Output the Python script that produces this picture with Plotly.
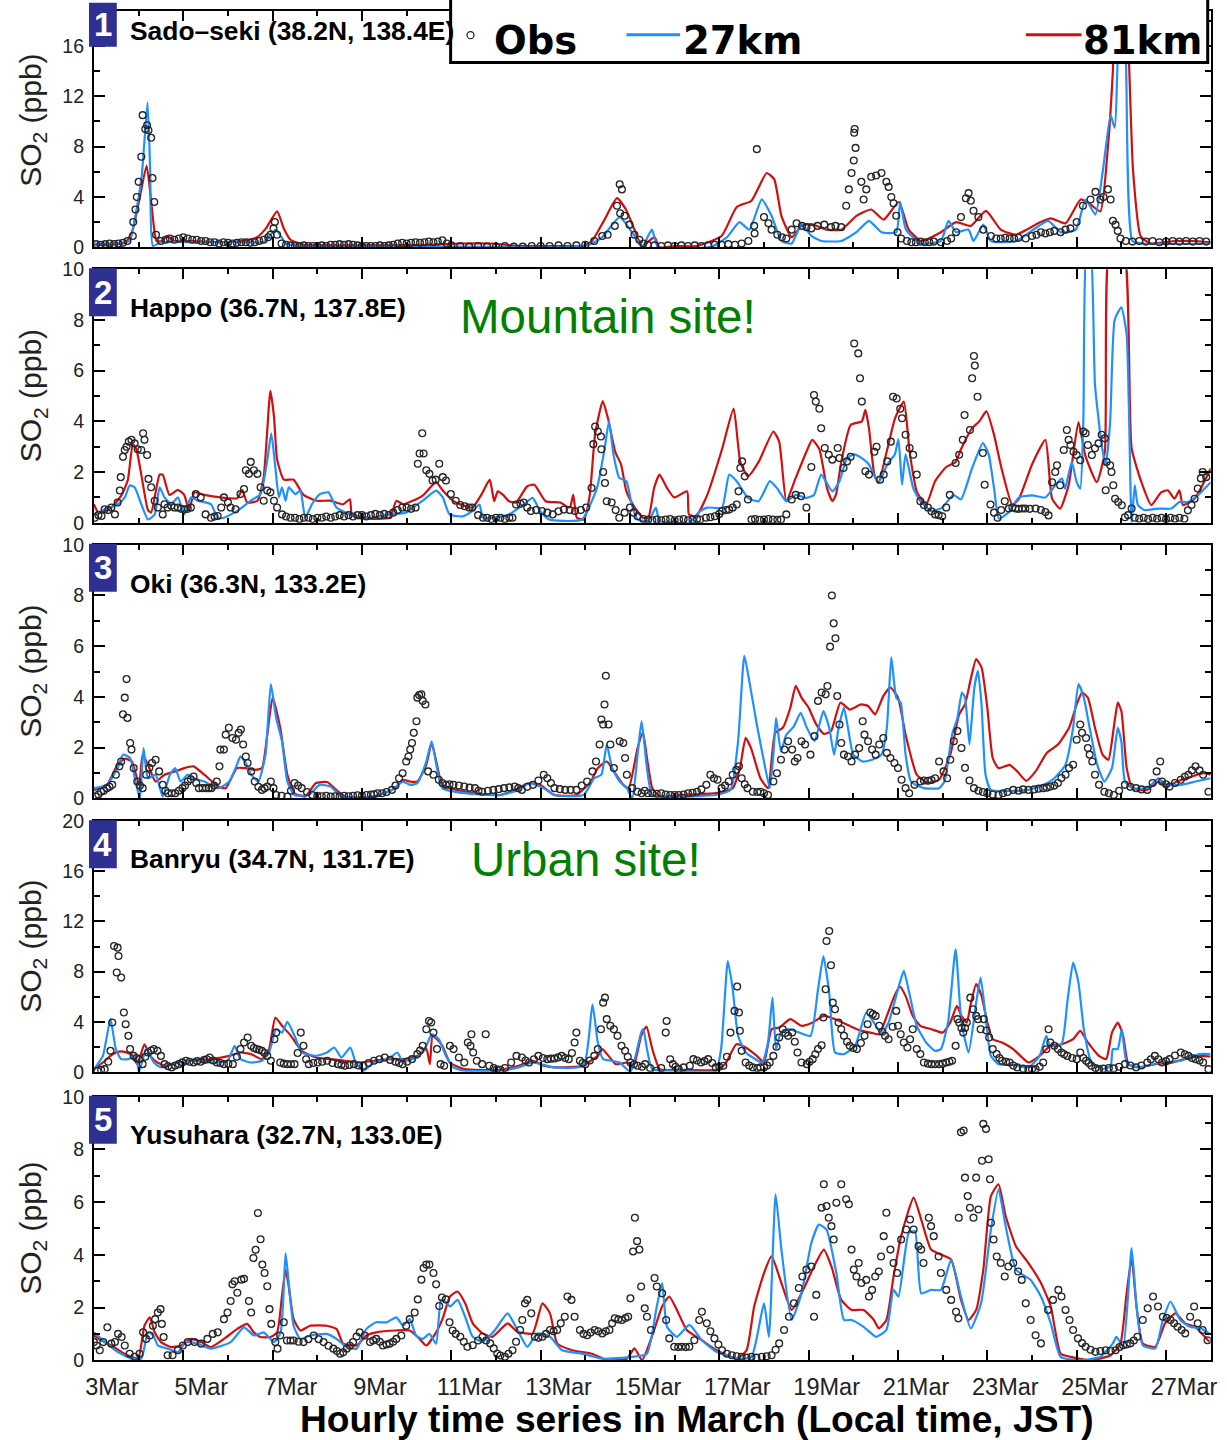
import plotly.graph_objects as go

# ---------------- data (x = days since 3 Mar 00:00 JST, y = SO2 ppb) ----------------
tick_days = [0, 2, 4, 6, 8, 10, 12, 14, 16, 18, 20, 22, 24]
tick_labels = ["3Mar", "5Mar", "7Mar", "9Mar", "11Mar", "13Mar", "15Mar", "17Mar",
               "19Mar", "21Mar", "23Mar", "25Mar", "27Mar"]
minor_days = [1, 3, 5, 7, 9, 11, 13, 15, 17, 19, 21, 23, 25]

site_names = ["Sado\u2013seki (38.2N, 138.4E)", "Happo (36.7N, 137.8E)", "Oki (36.3N, 133.2E)",
              "Banryu (34.7N, 131.7E)", "Yusuhara (32.7N, 133.0E)"]
panel_numbers = ["1", "2", "3", "4", "5"]
y_max = [18.78, 10, 10, 20, 10]
y_major = [[0, 4, 8, 12, 16], [0, 2, 4, 6, 8, 10], [0, 2, 4, 6, 8, 10], [0, 4, 8, 12, 16, 20], [0, 2, 4, 6, 8, 10]]
y_minor = [[2, 6, 10, 14, 18], [1, 3, 5, 7, 9], [1, 3, 5, 7, 9], [2, 6, 10, 14, 18], [1, 3, 5, 7, 9]]

sado_81km = [(0.0,0.2),(0.4,0.2),(0.7,0.35),(0.85,1.2),(1.0,3.5),(1.18,6.5),(1.3,3.0),(1.4,0.5),(1.52,0.5),(1.64,0.9),(1.8,0.5),(2.2,0.5),(2.8,0.4),(3.3,0.5),(3.65,0.8),(3.85,1.5),(4.1,2.85),(4.25,1.5),(4.4,0.6),(4.7,0.2),(5.5,0.15),(6.5,0.15),(7.5,0.2),(8.2,0.3),(8.9,0.3),(9.5,0.1),(10.5,0.1),(10.93,0.1),(11.15,0.5),(11.43,2.2),(11.71,3.9),(11.91,3.0),(12.1,1.4),(12.27,0.1),(12.55,0.8),(12.66,0.0),(13.0,0.1),(13.5,0.1),(14.05,0.9),(14.39,3.2),(14.72,3.7),(15.06,5.9),(15.23,5.4),(15.39,2.5),(15.62,0.8),(15.84,1.7),(16.06,1.85),(16.4,1.4),(16.73,1.4),(17.07,2.5),(17.4,3.0),(17.68,2.2),(18.02,3.6),(18.24,1.4),(18.52,0.5),(18.96,1.2),(19.3,2.0),(19.63,1.7),(19.97,2.9),(20.3,1.4),(20.64,1.0),(21.19,2.0),(21.42,2.3),(21.75,1.9),(22.09,3.8),(22.31,3.4),(22.53,2.85),(22.7,8.0),(22.81,14.0),(22.9,22.0),(23.05,22.0),(23.15,16.8),(23.26,6.2),(23.43,0.9),(23.65,0.3),(24.2,0.5),(24.6,0.5),(25.0,0.4)]
sado_27km = [(0.0,0.3),(0.5,0.3),(0.8,0.5),(0.91,2.2),(1.07,5.7),(1.2,11.5),(1.26,6.0),(1.32,0.1),(1.5,0.4),(2.5,0.4),(3.5,0.4),(3.8,0.4),(4.07,1.4),(4.3,0.3),(4.6,0.1),(6.0,0.05),(8.0,0.05),(9.5,0.0),(10.9,0.05),(11.15,0.3),(11.38,0.8),(11.77,2.4),(12.1,0.9),(12.27,0.0),(12.49,1.4),(12.63,0.0),(13.83,0.05),(14.17,0.8),(14.45,2.0),(14.67,1.4),(14.95,3.8),(15.17,2.5),(15.39,0.5),(15.62,0.3),(15.84,1.85),(16.06,0.9),(16.29,0.5),(16.73,0.5),(17.07,1.2),(17.35,2.1),(17.63,1.2),(17.96,1.2),(18.05,3.6),(18.18,1.4),(18.52,0.3),(18.96,0.5),(19.13,2.1),(19.3,1.2),(19.58,1.4),(19.69,0.5),(19.91,1.8),(20.08,0.5),(20.64,0.5),(21.36,2.1),(21.64,1.2),(21.98,1.4),(22.2,3.8),(22.42,2.6),(22.59,6.2),(22.76,10.5),(22.85,9.5),(22.97,20.0),(23.1,15.0),(23.25,0.5),(23.5,0.3),(25.0,0.3)]
sado_obs = [(0.05,0.25),(0.15,0.2),(0.25,0.25),(0.35,0.3),(0.45,0.25),(0.55,0.3),(0.65,0.35),(0.75,0.5),(0.87,0.9),(0.88,2.0),(0.93,3.0),(0.96,4.0),(1.0,5.2),(1.06,7.2),(1.09,10.5),(1.15,9.4),(1.19,9.7),(1.22,9.3),(1.28,8.7),(1.31,5.5),(1.35,3.6),(1.39,1.0),(1.5,0.5),(1.6,0.6),(1.7,0.7),(1.8,0.6),(1.9,0.7),(2.0,0.8),(2.1,0.7),(2.2,0.6),(2.3,0.6),(2.4,0.5),(2.5,0.5),(2.6,0.4),(2.7,0.4),(2.8,0.3),(2.9,0.4),(3.0,0.35),(3.1,0.3),(3.2,0.35),(3.3,0.4),(3.4,0.4),(3.5,0.35),(3.6,0.4),(3.7,0.5),(3.8,0.6),(3.9,0.8),(3.95,1.0),(4.02,1.5),(4.05,2.0),(4.1,1.0),(4.2,0.3),(4.3,0.2),(4.4,0.15),(4.5,0.1),(4.6,0.1),(4.7,0.15),(4.8,0.1),(4.9,0.1),(5.0,0.1),(5.1,0.15),(5.2,0.1),(5.3,0.2),(5.4,0.2),(5.5,0.25),(5.6,0.2),(5.7,0.25),(5.8,0.2),(5.9,0.15),(6.0,0.1),(6.1,0.1),(6.2,0.1),(6.3,0.1),(6.4,0.15),(6.5,0.1),(6.6,0.15),(6.7,0.2),(6.8,0.3),(6.9,0.35),(7.0,0.3),(7.1,0.35),(7.2,0.4),(7.3,0.35),(7.4,0.4),(7.5,0.45),(7.6,0.4),(7.7,0.45),(7.8,0.55),(7.9,0.3),(8.0,0.15),(8.2,0.1),(8.4,0.05),(8.6,0.1),(8.8,0.05),(9.0,0.05),(9.2,0.1),(9.4,0.05),(9.6,0.05),(9.8,0.1),(10.0,0.1),(10.2,0.1),(10.4,0.15),(10.6,0.1),(10.8,0.15),(11.0,0.2),(11.2,0.5),(11.38,0.9),(11.5,1.0),(11.66,1.7),(11.71,3.3),(11.77,5.0),(11.78,2.7),(11.82,4.6),(11.88,2.5),(11.99,1.8),(12.1,1.0),(12.21,0.6),(12.3,0.3),(12.4,0.2),(12.55,0.15),(12.7,0.1),(12.85,0.15),(13.0,0.1),(13.15,0.15),(13.3,0.1),(13.45,0.15),(13.6,0.1),(13.75,0.15),(13.9,0.2),(14.05,0.2),(14.2,0.25),(14.35,0.2),(14.5,0.3),(14.65,0.5),(14.78,1.7),(14.79,1.1),(14.84,7.8),(15.0,2.4),(15.1,1.9),(15.17,1.4),(15.3,1.0),(15.4,0.8),(15.5,0.7),(15.62,1.4),(15.73,1.9),(15.85,1.7),(15.95,1.6),(16.06,1.5),(16.2,1.7),(16.35,1.8),(16.5,1.6),(16.6,1.7),(16.73,1.6),(16.84,3.3),(16.9,4.6),(16.96,5.9),(17.01,6.9),(17.02,9.1),(17.03,9.4),(17.05,7.9),(17.18,5.2),(17.23,3.8),(17.29,4.6),(17.4,5.6),(17.51,5.7),(17.63,5.9),(17.74,5.2),(17.79,4.8),(17.85,4.0),(17.9,3.5),(17.96,2.5),(17.99,1.2),(18.07,0.7),(18.2,0.5),(18.3,0.4),(18.4,0.4),(18.5,0.45),(18.6,0.4),(18.7,0.4),(18.8,0.45),(18.96,0.4),(19.1,0.5),(19.19,0.7),(19.3,1.2),(19.41,2.4),(19.52,3.9),(19.58,4.3),(19.63,3.7),(19.69,2.9),(19.8,2.4),(19.91,1.4),(20.08,0.9),(20.2,0.7),(20.3,0.7),(20.4,0.75),(20.5,0.7),(20.6,0.7),(20.7,0.75),(20.86,0.7),(21.0,0.9),(21.1,1.0),(21.2,1.2),(21.3,1.1),(21.4,1.2),(21.5,1.3),(21.64,1.2),(21.75,1.4),(21.86,1.5),(22.0,2.0),(22.14,3.3),(22.31,3.8),(22.42,4.4),(22.53,3.8),(22.6,4.0),(22.7,4.6),(22.76,3.8),(22.81,2.1),(22.87,1.8),(22.92,1.3),(22.98,0.7),(23.1,0.5),(23.25,0.45),(23.4,0.5),(23.55,0.45),(23.7,0.5),(23.85,0.4),(24.0,0.45),(24.15,0.5),(24.3,0.45),(24.45,0.5),(24.6,0.45),(24.75,0.5),(24.9,0.45)]

happo_81km = [(0.0,0.73),(0.1,0.4),(0.39,0.6),(0.62,1.1),(0.76,1.7),(0.87,3.1),(0.95,2.9),(1.06,1.9),(1.21,0.5),(1.28,0.4),(1.47,1.9),(1.54,1.9),(1.69,1.1),(1.88,1.3),(2.02,1.1),(2.13,0.5),(2.25,1.2),(2.47,1.1),(2.84,1.0),(3.21,0.97),(3.32,1.3),(3.43,0.8),(3.66,0.87),(3.8,1.8),(3.95,5.2),(4.03,4.2),(4.1,2.5),(4.25,1.7),(4.47,1.7),(4.69,1.1),(4.99,0.87),(5.29,0.87),(5.58,0.73),(5.73,0.93),(5.77,0.33),(5.88,0.2),(6.62,0.2),(6.77,0.87),(6.92,0.73),(7.14,0.87),(7.36,1.07),(7.66,1.6),(7.81,1.27),(8.05,0.85),(8.47,0.6),(8.67,1.1),(8.86,1.7),(8.96,0.85),(9.04,1.24),(9.16,1.1),(9.29,0.85),(9.45,0.8),(9.7,1.44),(9.86,1.5),(10.11,0.85),(10.44,0.8),(10.65,0.6),(10.73,1.1),(10.81,0.2),(10.97,0.13),(11.1,1.1),(11.22,3.5),(11.39,4.8),(11.51,4.1),(11.67,2.8),(11.8,2.3),(11.92,1.24),(12.09,0.65),(12.29,0.2),(12.41,0.2),(12.54,1.37),(12.66,1.9),(12.83,1.37),(12.99,1.0),(13.28,1.24),(13.32,0.33),(13.48,0.26),(13.73,1.1),(14.06,2.9),(14.32,4.5),(14.47,2.4),(14.64,1.83),(14.88,2.4),(15.21,3.6),(15.34,3.2),(15.5,0.85),(15.71,1.77),(15.95,2.8),(16.08,3.27),(16.24,2.9),(16.41,1.37),(16.53,0.85),(16.61,1.1),(16.73,2.4),(16.94,3.86),(17.19,4.0),(17.27,4.45),(17.35,3.73),(17.47,1.9),(17.56,1.57),(17.76,2.9),(17.93,4.1),(18.13,4.78),(18.26,2.8),(18.42,1.24),(18.63,0.72),(18.83,1.64),(19.08,2.2),(19.29,2.4),(19.41,2.9),(19.66,3.73),(19.82,4.0),(19.98,4.4),(20.15,3.47),(20.31,2.2),(20.56,0.7),(20.71,0.95),(21.0,2.3),(21.3,3.27),(21.45,0.95),(21.63,0.56),(21.82,1.48),(22.04,3.97),(22.19,2.67),(22.45,1.6),(22.63,2.8),(22.75,11.0),(23.04,11.0),(23.23,2.94),(23.45,1.6),(23.67,0.7),(23.89,1.2),(24.04,1.28),(24.19,0.95),(24.3,1.28),(24.38,0.7),(24.64,0.95),(25.0,2.14)]
happo_27km = [(0.0,0.33),(0.24,0.53),(0.54,0.73),(0.69,1.0),(0.8,1.47),(0.91,1.4),(1.06,0.73),(1.21,0.13),(1.36,0.33),(1.47,1.4),(1.58,1.0),(1.73,0.73),(1.88,1.0),(2.02,0.33),(2.17,1.0),(2.32,0.87),(2.62,0.73),(2.77,0.2),(2.91,0.2),(3.21,0.47),(3.51,0.87),(3.73,1.13),(3.88,2.47),(3.97,3.53),(4.06,2.2),(4.14,1.0),(4.21,1.4),(4.29,0.87),(4.36,1.4),(4.51,1.13),(4.62,1.27),(4.73,0.2),(4.88,0.73),(5.06,1.13),(5.25,1.2),(5.43,0.6),(5.73,0.33),(6.18,0.2),(6.62,0.33),(6.99,0.4),(7.14,0.6),(7.36,0.87),(7.66,1.27),(7.81,1.0),(7.96,0.33),(8.25,0.25),(8.47,0.46),(8.63,0.72),(8.71,0.2),(8.96,0.2),(9.29,0.33),(9.62,0.72),(9.82,0.98),(9.99,0.46),(10.19,0.13),(10.6,0.07),(10.93,0.13),(11.26,1.37),(11.43,2.9),(11.53,4.0),(11.63,2.7),(11.76,1.77),(11.92,1.64),(12.04,0.72),(12.17,0.13),(12.41,0.07),(12.58,0.6),(12.66,0.07),(12.99,0.0),(13.32,0.0),(13.57,0.46),(13.73,0.6),(14.06,0.6),(14.22,1.9),(14.39,1.64),(14.64,0.98),(14.88,0.85),(15.13,1.64),(15.29,1.37),(15.5,0.85),(15.71,1.1),(15.95,0.98),(16.12,1.1),(16.28,1.9),(16.53,1.24),(16.69,1.64),(16.86,2.55),(17.02,2.7),(17.19,2.55),(17.35,2.3),(17.56,1.57),(17.76,2.3),(17.93,2.7),(18.01,3.3),(18.09,1.5),(18.17,2.7),(18.34,1.37),(18.5,0.85),(18.75,0.46),(18.99,0.6),(19.24,1.1),(19.41,0.92),(19.66,2.16),(19.9,3.14),(20.03,2.7),(20.15,1.37),(20.26,0.16),(20.48,0.42),(20.71,1.0),(21.0,1.08),(21.3,1.0),(21.52,1.48),(21.67,1.75),(21.74,1.35),(21.89,2.4),(22.0,1.6),(22.08,1.35),(22.15,4.1),(22.23,11.0),(22.3,11.0),(22.41,5.45),(22.56,3.07),(22.65,2.27),(22.75,4.0),(22.85,8.0),(23.0,8.5),(23.12,7.4),(23.23,0.0),(23.3,1.48),(23.37,0.7),(23.52,0.5),(23.82,0.56),(24.12,0.56),(24.3,0.82),(24.49,0.82),(24.71,1.08),(25.0,1.6)]
happo_obs = [(0.02,0.2),(0.1,0.3),(0.17,0.27),(0.24,0.53),(0.32,0.5),(0.39,0.6),(0.47,0.33),(0.53,0.8),(0.58,1.27),(0.6,1.8),(0.65,2.6),(0.69,2.87),(0.73,3.0),(0.78,3.2),(0.84,3.27),(0.91,3.13),(0.98,2.9),(1.06,2.87),(1.1,3.53),(1.13,3.27),(1.19,2.67),(1.22,1.73),(1.28,1.4),(1.36,0.87),(1.43,0.6),(1.54,0.33),(1.58,0.73),(1.65,0.6),(1.73,0.67),(1.8,0.6),(1.88,0.6),(1.95,0.55),(2.02,0.53),(2.1,0.55),(2.17,0.6),(2.28,1.13),(2.39,1.0),(2.5,0.33),(2.62,0.2),(2.7,0.25),(2.77,0.27),(2.85,0.6),(2.91,1.0),(3.0,0.8),(3.06,0.6),(3.17,0.53),(3.28,1.13),(3.36,1.33),(3.4,2.07),(3.47,1.93),(3.51,2.4),(3.58,2.07),(3.66,1.93),(3.73,1.4),(3.8,0.87),(3.88,1.27),(3.95,1.2),(4.03,0.87),(4.1,0.6),(4.21,0.33),(4.3,0.25),(4.4,0.2),(4.5,0.2),(4.6,0.15),(4.7,0.2),(4.8,0.2),(4.9,0.15),(5.0,0.2),(5.1,0.2),(5.2,0.25),(5.3,0.2),(5.4,0.25),(5.5,0.3),(5.6,0.25),(5.7,0.3),(5.8,0.25),(5.9,0.3),(6.0,0.3),(6.1,0.25),(6.2,0.3),(6.3,0.35),(6.4,0.3),(6.5,0.35),(6.6,0.3),(6.7,0.4),(6.8,0.5),(6.9,0.6),(7.0,0.6),(7.1,0.55),(7.2,0.6),(7.25,2.33),(7.29,2.73),(7.35,3.53),(7.38,2.73),(7.44,2.07),(7.51,1.93),(7.58,1.67),(7.65,1.7),(7.73,2.33),(7.81,1.8),(7.88,1.67),(7.99,1.13),(8.1,0.87),(8.2,0.7),(8.3,0.65),(8.4,0.6),(8.47,0.6),(8.6,0.3),(8.71,0.2),(8.8,0.2),(8.9,0.15),(9.0,0.2),(9.1,0.2),(9.2,0.15),(9.3,0.2),(9.37,0.2),(9.45,0.72),(9.55,0.75),(9.62,0.8),(9.7,0.6),(9.78,0.46),(9.9,0.5),(10.03,0.46),(10.15,0.4),(10.27,0.33),(10.4,0.45),(10.52,0.52),(10.65,0.5),(10.77,0.46),(10.9,0.5),(11.02,0.6),(11.14,1.37),(11.18,3.1),(11.22,3.8),(11.28,3.6),(11.35,3.4),(11.36,2.9),(11.4,2.0),(11.44,1.57),(11.48,0.85),(11.59,0.8),(11.68,0.5),(11.76,0.2),(11.88,0.4),(12.0,0.6),(12.08,0.4),(12.17,0.26),(12.3,0.15),(12.41,0.13),(12.5,0.1),(12.6,0.13),(12.7,0.1),(12.8,0.13),(12.9,0.15),(13.0,0.1),(13.1,0.13),(13.2,0.15),(13.3,0.1),(13.4,0.13),(13.5,0.15),(13.57,0.13),(13.7,0.2),(13.8,0.22),(13.9,0.26),(14.0,0.35),(14.06,0.46),(14.15,0.5),(14.22,0.52),(14.3,0.6),(14.39,0.72),(14.43,1.24),(14.47,2.16),(14.51,2.42),(14.57,1.83),(14.64,0.92),(14.72,0.13),(14.8,0.15),(14.9,0.12),(15.0,0.13),(15.1,0.15),(15.2,0.13),(15.3,0.12),(15.38,0.13),(15.5,0.33),(15.62,0.92),(15.71,1.1),(15.83,1.05),(15.95,0.6),(16.06,2.2),(16.12,5.04),(16.16,4.78),(16.24,4.5),(16.28,3.73),(16.36,2.95),(16.45,2.68),(16.53,2.49),(16.65,2.95),(16.69,2.55),(16.78,2.16),(16.86,2.42),(16.94,2.6),(17.02,7.07),(17.11,6.68),(17.15,5.7),(17.19,4.78),(17.27,2.03),(17.35,1.9),(17.47,2.8),(17.52,3.0),(17.6,1.7),(17.68,1.9),(17.76,2.42),(17.84,3.2),(17.89,4.97),(17.97,4.9),(18.05,4.5),(18.09,4.12),(18.17,3.47),(18.26,2.95),(18.34,2.68),(18.42,1.9),(18.5,0.85),(18.58,0.7),(18.67,0.6),(18.75,0.45),(18.83,0.33),(18.91,0.3),(18.99,0.26),(19.08,0.6),(19.16,1.1),(19.29,2.36),(19.37,2.68),(19.45,3.27),(19.49,4.25),(19.61,3.66),(19.66,5.7),(19.7,6.58),(19.72,6.2),(19.78,4.97),(19.9,2.75),(19.94,1.5),(20.07,0.72),(20.15,0.4),(20.23,0.2),(20.31,0.5),(20.39,0.85),(20.48,0.56),(20.56,0.6),(20.63,0.56),(20.7,0.55),(20.78,0.56),(20.85,0.56),(20.95,0.55),(21.08,0.56),(21.2,0.5),(21.3,0.42),(21.37,0.29),(21.45,1.6),(21.52,2.0),(21.56,2.27),(21.63,1.48),(21.71,2.87),(21.78,3.66),(21.82,3.27),(21.86,3.07),(21.93,2.8),(22.0,2.67),(22.08,2.47),(22.15,3.6),(22.2,3.53),(22.25,3.07),(22.34,2.67),(22.41,2.94),(22.49,3.13),(22.56,3.47),(22.63,3.33),(22.65,1.28),(22.67,2.4),(22.75,2.27),(22.78,2.0),(22.82,1.48),(22.86,0.95),(22.93,0.82),(23.01,0.69),(23.08,0.22),(23.15,0.3),(23.23,0.56),(23.3,0.2),(23.4,0.16),(23.5,0.2),(23.6,0.15),(23.7,0.2),(23.8,0.16),(23.9,0.2),(24.0,0.15),(24.1,0.2),(24.2,0.16),(24.3,0.2),(24.41,0.16),(24.49,0.49),(24.57,0.7),(24.64,0.95),(24.71,1.35),(24.78,1.75),(24.82,2.0),(24.9,1.8)]

oki_81km = [(0.0,0.33),(0.29,0.53),(0.53,1.32),(0.69,1.56),(0.85,1.45),(1.01,0.53),(1.09,1.72),(1.21,1.32),(1.38,0.66),(1.58,0.93),(1.82,1.06),(2.02,1.19),(2.23,1.26),(2.47,0.93),(2.79,0.46),(2.95,0.4),(3.2,1.19),(3.4,1.19),(3.6,1.12),(3.76,1.19),(3.88,2.5),(4.0,3.97),(4.17,2.78),(4.33,0.93),(4.49,0.2),(4.73,0.07),(4.97,0.6),(5.22,0.64),(5.38,0.4),(5.62,0.07),(6.27,0.07),(6.75,0.4),(6.91,0.73),(7.08,0.66),(7.24,0.66),(7.44,1.32),(7.56,2.18),(7.68,1.32),(7.8,0.53),(8.29,0.26),(9.1,0.13),(9.5,0.4),(9.74,0.6),(9.99,0.53),(10.31,0.13),(10.8,0.13),(11.12,0.66),(11.28,1.19),(11.48,1.45),(11.64,1.06),(11.85,0.53),(11.97,0.4),(12.17,1.98),(12.29,2.6),(12.38,1.59),(12.5,0.4),(12.67,0.07),(13.09,0.13),(13.92,0.2),(14.3,0.4),(14.46,1.19),(14.59,2.38),(14.71,1.98),(14.92,0.79),(15.09,0.4),(15.25,2.58),(15.42,2.78),(15.59,3.57),(15.71,4.43),(15.84,3.97),(16.0,3.57),(16.17,2.91),(16.34,2.54),(16.5,2.65),(16.71,3.77),(16.92,3.5),(17.17,3.7),(17.33,3.64),(17.49,3.31),(17.67,4.03),(17.83,4.37),(18.0,3.97),(18.17,2.51),(18.42,0.93),(18.67,0.6),(18.92,0.73),(19.17,1.72),(19.37,3.31),(19.5,3.7),(19.62,4.63),(19.75,5.49),(19.87,5.16),(20.0,3.57),(20.12,1.59),(20.25,1.19),(20.5,1.32),(20.67,1.06),(20.87,0.69),(21.08,1.06),(21.33,1.79),(21.58,2.12),(21.83,2.78),(22.0,3.7),(22.12,4.17),(22.25,3.97),(22.41,2.78),(22.58,1.72),(22.71,1.52),(22.83,2.78),(22.92,3.77),(23.0,3.44),(23.12,1.19),(23.25,0.4),(23.58,0.33),(23.83,0.66),(24.0,0.46),(24.25,0.66),(24.58,0.86),(24.83,0.99),(25.0,0.93)]
oki_27km = [(0.0,0.4),(0.29,0.53),(0.53,1.19),(0.65,1.72),(0.81,1.59),(0.93,0.66),(1.03,0.0),(1.11,1.98),(1.21,0.79),(1.38,0.93),(1.54,0.07),(1.7,0.93),(1.82,1.19),(1.94,0.66),(2.1,0.93),(2.23,0.79),(2.47,0.66),(2.79,0.4),(3.03,0.66),(3.2,1.32),(3.28,1.65),(3.4,1.39),(3.52,0.93),(3.68,0.66),(3.84,1.72),(3.96,4.5),(4.08,3.17),(4.21,2.25),(4.33,0.66),(4.49,0.13),(4.81,0.13),(5.05,0.53),(5.3,0.46),(5.54,0.07),(6.27,0.07),(6.67,0.33),(6.91,0.66),(7.08,0.53),(7.24,0.6),(7.44,1.45),(7.56,2.25),(7.68,1.19),(7.8,0.4),(8.29,0.2),(9.1,0.13),(9.5,0.33),(9.74,0.6),(10.07,0.4),(10.31,0.13),(10.96,0.13),(11.2,0.79),(11.36,0.93),(11.48,2.12),(11.6,1.19),(11.77,0.66),(11.93,0.4),(12.05,0.0),(12.17,1.72),(12.26,3.04),(12.38,1.19),(12.5,0.13),(13.09,0.07),(13.92,0.13),(14.25,0.33),(14.42,2.25),(14.56,5.62),(14.67,4.63),(14.84,2.91),(15.0,1.45),(15.13,0.4),(15.21,1.72),(15.27,3.17),(15.38,1.85),(15.5,2.51),(15.67,2.84),(15.82,3.37),(15.96,2.78),(16.13,2.25),(16.33,3.44),(16.46,2.78),(16.57,1.72),(16.67,2.78),(16.79,3.57),(16.88,2.78),(17.0,1.72),(17.21,1.45),(17.42,1.52),(17.63,1.72),(17.75,2.78),(17.85,5.56),(17.96,3.97),(18.06,3.77),(18.17,1.72),(18.29,0.66),(18.58,0.4),(18.92,0.4),(19.04,0.66),(19.21,2.51),(19.33,3.17),(19.43,4.17),(19.5,3.97),(19.6,2.12),(19.67,3.57),(19.71,4.37),(19.79,5.03),(19.87,3.7),(19.96,0.93),(20.08,0.33),(20.58,0.29),(20.92,0.33),(21.25,0.53),(21.5,0.79),(21.75,1.32),(21.92,2.78),(22.04,4.5),(22.16,3.97),(22.29,2.78),(22.46,1.32),(22.62,0.66),(22.79,1.19),(22.92,2.78),(23.0,2.25),(23.08,0.66),(23.25,0.4),(23.58,0.4),(23.83,0.79),(24.0,0.53),(24.33,0.53),(24.66,0.66),(25.0,0.79)]
oki_obs = [(0.04,0.07),(0.1,0.15),(0.16,0.26),(0.22,0.3),(0.29,0.4),(0.35,0.45),(0.41,0.53),(0.49,0.93),(0.57,1.26),(0.61,1.45),(0.65,3.31),(0.69,3.97),(0.73,4.7),(0.75,3.17),(0.81,2.18),(0.84,1.92),(0.89,1.19),(0.97,0.66),(1.03,0.5),(1.09,0.4),(1.17,0.93),(1.24,1.2),(1.3,1.39),(1.38,1.52),(1.46,1.06),(1.54,0.53),(1.6,0.3),(1.66,0.2),(1.74,0.2),(1.82,0.2),(1.9,0.3),(1.98,0.4),(2.04,0.5),(2.1,0.66),(2.17,0.75),(2.23,0.86),(2.29,0.6),(2.35,0.4),(2.43,0.4),(2.51,0.4),(2.57,0.4),(2.63,0.4),(2.69,0.5),(2.75,0.66),(2.81,1.26),(2.83,1.92),(2.91,1.92),(2.95,2.51),(3.02,2.78),(3.1,2.38),(3.18,2.31),(3.24,2.58),(3.29,2.71),(3.34,2.12),(3.4,1.65),(3.44,1.39),(3.52,1.06),(3.6,0.66),(3.68,0.45),(3.76,0.33),(3.82,0.4),(3.88,0.46),(3.96,0.66),(4.02,0.4),(4.08,0.13),(4.2,0.1),(4.33,0.07),(4.41,0.3),(4.49,0.6),(4.57,0.5),(4.65,0.4),(4.77,0.25),(4.89,0.13),(5.0,0.1),(5.1,0.08),(5.2,0.1),(5.3,0.07),(5.4,0.08),(5.5,0.07),(5.6,0.1),(5.7,0.08),(5.8,0.1),(5.9,0.12),(6.0,0.1),(6.1,0.13),(6.2,0.15),(6.27,0.16),(6.35,0.2),(6.45,0.2),(6.55,0.25),(6.67,0.33),(6.75,0.5),(6.83,0.79),(6.91,0.99),(6.99,1.45),(7.04,1.65),(7.08,1.92),(7.12,2.18),(7.16,2.58),(7.22,3.04),(7.24,3.97),(7.28,4.07),(7.33,4.1),(7.36,3.84),(7.42,3.7),(7.48,1.06),(7.6,0.93),(7.72,0.73),(7.8,0.6),(7.88,0.53),(7.96,0.55),(8.05,0.53),(8.17,0.5),(8.29,0.46),(8.41,0.42),(8.53,0.4),(8.61,0.3),(8.69,0.26),(8.82,0.3),(8.94,0.33),(9.06,0.36),(9.18,0.4),(9.3,0.43),(9.42,0.46),(9.5,0.4),(9.58,0.33),(9.7,0.45),(9.83,0.53),(9.95,0.7),(10.07,0.93),(10.15,0.79),(10.23,0.6),(10.31,0.4),(10.43,0.36),(10.55,0.33),(10.67,0.33),(10.8,0.33),(10.92,0.5),(11.04,0.66),(11.16,1.06),(11.24,1.45),(11.32,2.12),(11.36,3.11),(11.4,2.91),(11.43,3.7),(11.46,4.83),(11.52,2.91),(11.56,2.12),(11.64,1.19),(11.77,2.25),(11.85,2.18),(11.89,1.59),(11.93,0.93),(12.05,0.4),(12.17,0.26),(12.26,0.2),(12.33,0.3),(12.4,0.2),(12.5,0.2),(12.6,0.18),(12.7,0.2),(12.8,0.15),(12.9,0.13),(13.0,0.13),(13.09,0.13),(13.2,0.15),(13.3,0.2),(13.4,0.22),(13.5,0.26),(13.6,0.35),(13.71,0.53),(13.8,0.93),(13.88,0.79),(13.96,0.73),(14.05,0.4),(14.13,0.5),(14.21,0.66),(14.3,0.93),(14.38,1.12),(14.44,1.26),(14.5,0.79),(14.57,0.55),(14.63,0.4),(14.75,0.26),(14.85,0.25),(14.92,0.26),(15.0,0.2),(15.09,0.13),(15.21,0.66),(15.29,0.99),(15.38,1.52),(15.46,1.92),(15.54,2.25),(15.63,1.92),(15.69,1.45),(15.75,1.59),(15.84,2.25),(15.92,2.12),(16.04,1.72),(16.13,2.45),(16.21,3.84),(16.29,4.17),(16.38,4.1),(16.42,4.43),(16.48,5.98),(16.52,8.0),(16.56,6.9),(16.6,6.31),(16.64,4.03),(16.69,2.91),(16.73,2.18),(16.79,1.72),(16.88,1.65),(16.96,1.45),(17.04,1.72),(17.13,1.98),(17.21,3.04),(17.25,2.51),(17.33,2.25),(17.42,1.92),(17.5,1.72),(17.58,2.12),(17.67,2.38),(17.75,1.79),(17.83,1.59),(17.92,1.39),(18.0,1.19),(18.08,0.73),(18.17,0.4),(18.25,0.2),(18.37,0.53),(18.5,0.66),(18.58,0.7),(18.67,0.69),(18.75,0.72),(18.83,0.79),(18.92,1.45),(19.02,1.06),(19.1,0.79),(19.17,1.52),(19.25,2.25),(19.33,2.65),(19.42,1.98),(19.5,1.2),(19.6,0.7),(19.7,0.4),(19.8,0.3),(19.9,0.25),(20.0,0.2),(20.12,0.15),(20.25,0.13),(20.35,0.2),(20.45,0.25),(20.58,0.33),(20.7,0.3),(20.8,0.35),(20.92,0.33),(21.05,0.35),(21.15,0.38),(21.25,0.4),(21.33,0.42),(21.41,0.46),(21.5,0.5),(21.58,0.6),(21.66,0.8),(21.75,0.93),(21.83,1.19),(21.92,1.32),(22.0,2.31),(22.08,2.91),(22.12,2.58),(22.21,2.38),(22.25,1.98),(22.29,1.72),(22.35,1.45),(22.41,0.93),(22.5,0.53),(22.62,0.26),(22.72,0.2),(22.83,0.13),(22.95,0.3),(23.08,0.53),(23.2,0.45),(23.33,0.4),(23.45,0.35),(23.58,0.33),(23.7,0.6),(23.79,1.06),(23.87,1.45),(23.91,0.66),(24.0,0.55),(24.08,0.46),(24.2,0.6),(24.33,0.73),(24.42,0.85),(24.5,0.93),(24.58,1.1),(24.66,1.26),(24.75,1.1),(24.83,0.93),(24.95,0.26)]

banryu_81km = [(0.0,0.2),(0.2,0.74),(0.37,1.27),(0.53,1.59),(0.69,1.59),(0.85,1.33),(0.97,0.61),(1.13,2.2),(1.26,1.27),(1.42,0.74),(1.62,0.48),(1.9,0.74),(2.23,0.88),(2.63,1.01),(3.03,1.27),(3.28,1.54),(3.52,1.41),(3.76,1.01),(3.92,1.81),(4.06,4.33),(4.21,3.67),(4.41,2.87),(4.65,1.67),(4.97,1.14),(5.3,1.01),(5.62,0.88),(5.94,0.74),(6.27,0.88),(6.59,1.01),(6.91,1.01),(7.24,1.27),(7.44,1.81),(7.52,0.61),(7.58,2.87),(7.68,2.6),(7.8,2.07),(7.97,0.74),(8.29,0.21),(9.1,0.16),(9.5,0.48),(9.83,0.88),(10.07,0.48),(10.31,0.35),(10.96,0.48),(11.12,0.88),(11.28,1.27),(11.38,1.81),(11.52,1.27),(11.68,0.61),(11.93,0.74),(12.09,0.61),(12.25,2.87),(12.37,3.6),(12.5,1.81),(12.67,0.21),(13.09,0.16),(13.92,0.16),(14.13,0.61),(14.38,2.2),(14.59,1.94),(14.84,1.27),(15.0,0.74),(15.17,3.4),(15.34,3.53),(15.59,4.2),(15.84,3.67),(16.09,3.93),(16.34,4.46),(16.59,4.2),(16.84,3.8),(17.08,3.4),(17.38,3.13),(17.58,3.0),(17.75,4.46),(17.92,6.06),(18.04,6.8),(18.17,6.06),(18.33,4.46),(18.5,3.67),(18.75,3.4),(19.0,3.13),(19.17,3.93),(19.32,5.26),(19.42,4.46),(19.54,3.93),(19.62,5.26),(19.75,6.99),(19.87,6.06),(20.0,3.93),(20.12,2.6),(20.33,2.34),(20.58,1.81),(20.92,0.74),(21.17,1.27),(21.41,2.07),(21.66,2.2),(21.92,2.6),(22.08,3.27),(22.25,2.34),(22.5,1.27),(22.66,1.01),(22.79,3.13),(22.92,3.93),(23.04,2.87),(23.16,0.61),(23.41,0.35),(23.75,0.61),(24.08,0.69),(24.41,1.01),(24.75,1.27),(25.0,1.22)]
banryu_27km = [(0.0,0.2),(0.2,1.27),(0.37,4.2),(0.49,1.81),(0.61,1.01),(0.77,1.01),(0.93,1.27),(1.01,0.0),(1.17,1.81),(1.34,0.74),(1.5,0.35),(1.82,0.69),(2.23,0.88),(2.63,0.74),(2.99,0.88),(3.15,2.07),(3.28,1.01),(3.52,0.74),(3.76,0.88),(3.92,1.54),(4.08,3.4),(4.21,3.13),(4.33,3.98),(4.49,2.87),(4.65,1.54),(4.97,1.27),(5.22,1.54),(5.38,1.94),(5.54,1.14),(5.74,1.94),(5.86,0.74),(6.03,0.08),(6.27,0.74),(6.59,1.01),(6.79,1.54),(6.91,0.88),(7.24,1.14),(7.44,2.07),(7.56,3.0),(7.72,2.6),(7.88,1.27),(8.05,0.35),(8.29,0.08),(9.1,0.08),(9.5,0.35),(9.83,0.74),(10.31,0.35),(10.96,0.48),(11.16,5.39),(11.28,2.34),(11.4,1.01),(11.6,0.88),(11.77,0.74),(12.01,0.0),(12.25,3.13),(12.3,3.4),(12.38,1.81),(12.5,0.21),(13.09,0.08),(13.92,0.08),(14.04,1.81),(14.19,8.84),(14.3,6.59),(14.42,2.87),(14.59,1.54),(14.75,1.14),(14.96,0.74),(15.09,2.34),(15.19,5.92),(15.27,1.81),(15.38,3.13),(15.54,3.4),(15.75,3.19),(16.04,2.87),(16.21,6.59),(16.33,9.24),(16.46,6.32),(16.59,1.54),(16.79,1.41),(17.04,2.07),(17.29,4.73),(17.46,3.93),(17.63,3.0),(17.79,3.93),(18.0,6.59),(18.13,8.05),(18.25,6.32),(18.42,3.67),(18.63,2.34),(18.83,1.67),(18.96,1.81),(19.12,3.93),(19.29,9.77),(19.42,3.93),(19.58,1.54),(19.75,5.52),(19.85,7.52),(19.96,4.46),(20.08,1.27),(20.25,0.61),(20.58,0.53),(20.92,0.35),(21.17,1.27),(21.32,2.87),(21.41,2.07),(21.66,2.2),(21.79,5.52),(21.92,8.71),(22.04,7.12),(22.16,3.4),(22.33,0.74),(22.58,0.21),(22.76,0.48),(22.81,1.81),(22.92,1.81),(23.01,3.4),(23.12,0.74),(23.33,0.35),(23.91,0.74),(24.33,0.88),(24.75,1.41),(25.0,1.41)]
banryu_obs = [(0.08,0.08),(0.16,0.15),(0.24,0.21),(0.32,0.8),(0.37,1.67),(0.41,3.93),(0.45,10.04),(0.51,7.92),(0.53,9.91),(0.55,9.24),(0.61,7.52),(0.67,4.73),(0.71,3.8),(0.77,2.87),(0.81,1.81),(0.89,1.27),(0.95,1.1),(1.01,1.01),(1.09,0.61),(1.15,1.2),(1.21,1.54),(1.28,1.7),(1.34,1.81),(1.42,1.67),(1.5,1.27),(1.58,0.61),(1.66,0.45),(1.74,0.35),(1.82,0.5),(1.9,0.61),(1.98,0.75),(2.06,0.88),(2.14,0.8),(2.23,0.74),(2.31,0.85),(2.39,0.8),(2.47,0.95),(2.53,1.0),(2.59,1.14),(2.67,0.9),(2.75,0.74),(2.83,0.7),(2.91,0.61),(3.01,0.65),(3.11,0.61),(3.2,1.2),(3.28,1.81),(3.36,2.34),(3.44,2.74),(3.52,2.07),(3.58,1.9),(3.64,1.81),(3.7,1.75),(3.76,1.67),(3.82,1.5),(3.88,1.27),(3.96,0.88),(4.04,2.6),(4.08,3.13),(4.17,0.74),(4.25,0.65),(4.33,0.61),(4.41,0.6),(4.49,0.61),(4.56,1.5),(4.63,3.13),(4.69,2.07),(4.75,1.0),(4.81,0.61),(4.91,0.7),(5.01,0.74),(5.11,0.8),(5.22,0.88),(5.34,0.7),(5.46,0.61),(5.54,0.55),(5.62,0.48),(5.72,0.55),(5.82,0.61),(5.92,0.5),(6.03,0.48),(6.15,0.7),(6.27,0.88),(6.39,1.0),(6.51,1.14),(6.63,0.95),(6.75,0.8),(6.83,0.7),(6.91,0.61),(7.01,0.8),(7.12,1.01),(7.24,1.41),(7.3,1.7),(7.36,2.07),(7.44,3.4),(7.5,4.06),(7.55,3.93),(7.6,3.13),(7.68,1.81),(7.76,0.61),(7.84,0.48),(7.97,2.07),(8.05,1.81),(8.17,1.14),(8.29,0.74),(8.37,2.34),(8.43,2.07),(8.45,3.0),(8.49,1.54),(8.57,0.88),(8.69,0.61),(8.77,3.0),(8.85,0.48),(8.95,0.3),(9.02,0.2),(9.1,0.16),(9.2,0.3),(9.34,0.74),(9.46,1.27),(9.58,1.14),(9.66,0.9),(9.74,0.74),(9.85,1.0),(9.95,1.27),(10.05,1.1),(10.15,1.01),(10.23,1.05),(10.31,1.06),(10.39,1.15),(10.47,1.27),(10.55,1.1),(10.63,1.01),(10.7,1.5),(10.76,2.34),(10.8,3.13),(10.88,0.88),(10.94,0.7),(11.0,0.61),(11.1,0.9),(11.2,1.27),(11.28,1.81),(11.35,3.4),(11.4,5.52),(11.44,5.92),(11.48,4.2),(11.56,3.67),(11.64,3.4),(11.72,2.87),(11.81,2.07),(11.89,1.67),(11.95,1.2),(12.01,0.74),(12.09,0.6),(12.17,0.48),(12.27,0.4),(12.34,0.61),(12.45,0.3),(12.59,0.08),(12.7,0.3),(12.8,3.13),(12.82,4.06),(12.9,1.0),(12.96,0.61),(13.02,0.4),(13.09,0.21),(13.2,0.35),(13.34,0.48),(13.42,1.01),(13.5,0.9),(13.59,0.74),(13.67,0.85),(13.75,1.01),(13.84,0.7),(13.92,0.35),(14.0,0.4),(14.09,0.48),(14.17,1.2),(14.25,3.13),(14.34,4.86),(14.4,6.8),(14.44,4.73),(14.46,3.27),(14.5,1.67),(14.59,0.74),(14.67,0.5),(14.75,0.35),(14.85,0.3),(14.92,0.35),(15.0,0.35),(15.07,0.5),(15.13,0.74),(15.21,1.27),(15.28,2.0),(15.34,2.74),(15.42,3.4),(15.48,3.1),(15.54,2.87),(15.63,3.13),(15.69,2.4),(15.75,1.54),(15.84,0.74),(15.96,0.61),(16.02,0.8),(16.09,1.01),(16.15,1.4),(16.21,1.81),(16.29,2.12),(16.33,4.33),(16.38,6.59),(16.4,10.44),(16.46,11.24),(16.5,8.5),(16.54,5.52),(16.59,4.99),(16.67,3.93),(16.73,3.4),(16.79,2.87),(16.86,2.4),(16.92,2.07),(17.0,1.9),(17.08,1.81),(17.17,2.3),(17.25,2.87),(17.32,3.8),(17.38,4.73),(17.44,4.6),(17.5,4.46),(17.58,3.67),(17.65,3.2),(17.71,2.87),(17.79,2.6),(17.88,3.6),(17.96,4.86),(18.0,3.67),(18.06,3.0),(18.13,2.34),(18.21,1.94),(18.27,2.6),(18.33,3.4),(18.42,1.81),(18.5,1.41),(18.58,0.74),(18.67,0.65),(18.75,0.61),(18.83,0.6),(18.92,0.61),(19.0,0.65),(19.08,0.74),(19.15,0.8),(19.21,0.88),(19.29,2.07),(19.33,4.2),(19.37,3.93),(19.42,3.5),(19.46,3.13),(19.5,3.5),(19.54,3.93),(19.62,5.92),(19.68,4.99),(19.75,4.46),(19.79,4.2),(19.85,3.4),(19.92,4.2),(19.98,3.3),(20.04,2.74),(20.12,1.81),(20.21,1.41),(20.27,1.1),(20.33,0.88),(20.42,0.8),(20.5,0.74),(20.58,0.5),(20.67,0.35),(20.8,0.25),(20.92,0.21),(21.0,0.2),(21.08,0.21),(21.17,0.4),(21.25,0.74),(21.32,1.8),(21.37,3.4),(21.41,2.34),(21.5,2.07),(21.58,1.81),(21.66,1.54),(21.72,1.4),(21.79,1.27),(21.9,1.1),(22.0,1.01),(22.08,1.54),(22.15,1.1),(22.21,0.88),(22.27,0.7),(22.33,0.48),(22.42,0.3),(22.5,0.21),(22.6,0.25),(22.72,0.3),(22.83,0.27),(22.95,0.4),(23.08,0.61),(23.2,0.5),(23.33,0.35),(23.45,0.5),(23.58,0.74),(23.66,1.0),(23.75,1.27),(23.83,1.0),(23.91,0.74),(24.0,0.85),(24.08,1.01),(24.2,1.3),(24.33,1.54),(24.42,1.4),(24.5,1.27),(24.58,1.1),(24.66,1.01),(24.75,0.9),(24.83,0.74),(24.95,0.21)]

yusuhara_81km = [(0.0,0.94),(0.17,0.75),(0.39,0.56),(0.62,0.31),(0.84,0.13),(0.99,0.06),(1.13,1.31),(1.25,1.63),(1.36,1.06),(1.5,0.69),(1.73,0.5),(1.95,0.56),(2.17,0.81),(2.4,0.69),(2.62,0.5),(2.91,0.81),(3.21,1.19),(3.43,1.38),(3.58,1.06),(3.73,0.88),(3.95,0.88),(4.1,1.06),(4.21,2.44),(4.29,3.44),(4.36,2.81),(4.47,1.56),(4.62,1.13),(4.84,1.31),(5.21,1.31),(5.43,1.19),(5.58,0.63),(5.88,0.56),(6.1,0.94),(6.32,1.06),(6.77,1.13),(7.07,1.13),(7.29,0.81),(7.44,0.56),(7.66,1.06),(7.81,1.6),(7.97,2.42),(8.14,2.61),(8.31,2.16),(8.48,1.4),(8.7,1.02),(8.92,0.89),(9.26,1.4),(9.48,1.08),(9.82,1.02),(10.04,2.16),(10.21,1.78),(10.37,0.64),(10.71,0.38),(11.15,0.25),(11.49,0.0),(11.93,0.06),(12.1,0.45),(12.27,0.0),(12.49,0.89),(12.72,2.04),(12.88,2.42),(13.05,1.91),(13.27,1.15),(13.61,0.76),(13.94,0.38),(14.39,0.06),(14.61,0.38),(14.78,2.04),(15.0,3.31),(15.17,3.94),(15.39,2.93),(15.62,1.91),(15.84,2.54),(16.12,3.56),(16.34,4.2),(16.51,3.56),(16.73,2.29),(16.96,1.91),(17.23,1.91),(17.46,1.53),(17.57,1.21),(17.74,1.53),(17.9,3.18),(18.07,4.71),(18.35,6.17),(18.52,5.34),(18.74,4.2),(18.96,4.01),(19.19,3.82),(19.41,2.29),(19.58,1.53),(19.75,1.91),(19.91,3.44),(20.08,6.23),(20.25,6.68),(20.41,5.47),(20.64,4.33),(20.92,3.69),(21.2,2.93),(21.42,2.04),(21.64,0.25),(21.87,0.13),(22.31,0.0),(22.76,0.19),(22.98,0.64),(23.11,2.42),(23.23,3.88),(23.34,2.04),(23.48,0.64),(23.76,0.51),(23.98,1.4),(24.21,1.78),(24.43,1.4),(24.65,1.27),(24.97,0.7)]
yusuhara_27km = [(0.0,1.06),(0.25,0.69),(0.54,0.31),(0.84,0.06),(1.06,0.06),(1.21,1.06),(1.33,0.94),(1.43,0.56),(1.65,0.44),(1.88,0.31),(2.06,0.69),(2.32,0.63),(2.62,0.44),(3.06,0.69),(3.36,1.25),(3.58,0.94),(3.8,1.06),(4.03,0.69),(4.18,1.06),(4.29,4.06),(4.36,2.94),(4.47,1.31),(4.62,0.81),(4.84,0.94),(5.21,1.0),(5.43,0.81),(5.66,0.5),(5.88,0.44),(6.1,1.19),(6.32,1.44),(6.55,1.44),(6.77,1.63),(6.92,1.31),(7.07,1.56),(7.21,0.94),(7.36,0.81),(7.51,1.0),(7.66,0.63),(7.77,2.3),(7.88,2.2),(7.97,2.04),(8.14,2.29),(8.31,1.65),(8.48,0.89),(8.7,0.7),(8.98,1.15),(9.26,1.78),(9.48,1.15),(9.7,0.51),(9.93,1.02),(10.21,0.89),(10.48,0.38),(10.93,0.25),(11.38,0.06),(12.05,0.13),(12.38,0.25),(12.6,2.04),(12.72,2.93),(12.83,1.27),(13.05,0.89),(13.33,1.34),(13.61,0.76),(13.94,0.32),(14.39,0.06),(14.72,0.13),(15.0,2.16),(15.11,0.89),(15.26,6.3),(15.39,4.2),(15.62,1.53),(15.84,2.54),(16.06,4.45),(16.23,5.15),(16.4,4.96),(16.62,3.31),(16.79,1.53),(16.96,1.53),(17.23,1.27),(17.51,0.89),(17.74,1.15),(17.9,2.67),(18.01,2.42),(18.24,4.83),(18.38,4.9),(18.52,2.54),(18.74,2.67),(18.96,2.67),(19.19,3.82),(19.41,2.42),(19.63,1.21),(19.86,2.16),(20.08,4.96),(20.25,6.49),(20.41,5.09),(20.64,3.44),(20.97,3.05),(21.2,2.42),(21.42,1.4),(21.64,0.13),(22.09,0.0),(22.53,0.13),(22.81,0.64),(22.89,0.89),(23.04,0.51),(23.23,4.26),(23.34,2.04),(23.48,0.57),(23.76,0.45),(23.93,1.53),(24.1,2.23),(24.32,1.53),(24.54,1.27),(24.77,1.21),(24.97,1.02)]
yusuhara_obs = [(0.0,0.69),(0.06,0.56),(0.13,0.38),(0.21,0.69),(0.3,1.25),(0.39,0.63),(0.47,0.69),(0.54,1.0),(0.62,0.88),(0.69,0.56),(0.8,0.25),(0.91,0.13),(1.02,0.25),(1.1,1.06),(1.17,0.81),(1.25,0.94),(1.32,1.31),(1.37,1.56),(1.43,1.81),(1.49,1.94),(1.52,1.38),(1.56,0.88),(1.65,0.19),(1.76,0.19),(1.88,0.38),(1.99,0.56),(2.1,0.69),(2.25,0.69),(2.4,0.63),(2.54,0.81),(2.66,1.0),(2.77,1.06),(2.91,1.56),(2.99,1.81),(3.06,2.25),(3.1,2.88),(3.15,3.0),(3.21,2.56),(3.3,3.06),(3.36,3.09),(3.47,2.25),(3.52,1.81),(3.57,3.88),(3.62,4.19),(3.67,5.59),(3.73,4.59),(3.77,3.63),(3.82,3.31),(3.88,2.81),(3.93,1.94),(3.97,1.38),(4.06,0.69),(4.11,0.44),(4.17,0.94),(4.25,1.44),(4.32,0.75),(4.4,0.75),(4.47,0.75),(4.58,0.7),(4.69,0.69),(4.8,0.8),(4.92,0.94),(5.03,0.8),(5.14,0.69),(5.25,0.55),(5.36,0.44),(5.44,0.35),(5.51,0.25),(5.58,0.3),(5.66,0.44),(5.73,0.55),(5.8,0.69),(5.88,0.9),(5.95,1.06),(6.06,0.94),(6.18,0.69),(6.25,0.75),(6.32,0.81),(6.4,0.7),(6.47,0.56),(6.55,0.6),(6.62,0.63),(6.7,0.7),(6.77,0.81),(6.88,0.94),(6.99,1.31),(7.07,1.56),(7.18,1.81),(7.25,2.31),(7.33,3.06),(7.38,3.5),(7.44,3.63),(7.51,3.63),(7.6,3.31),(7.66,2.88),(7.73,2.06),(7.79,2.38),(7.88,2.31),(7.96,1.44),(8.03,1.13),(8.1,1.0),(8.2,0.89),(8.28,0.7),(8.36,0.51),(8.48,0.57),(8.6,0.75),(8.7,0.89),(8.78,0.75),(8.87,0.64),(8.95,0.45),(9.03,0.25),(9.1,0.18),(9.2,0.13),(9.28,0.25),(9.37,0.38),(9.45,0.7),(9.54,1.15),(9.59,1.53),(9.65,2.16),(9.7,2.29),(9.79,1.78),(9.87,0.89),(9.95,0.85),(10.04,0.89),(10.12,1.0),(10.21,1.15),(10.29,1.1),(10.37,1.15),(10.45,1.4),(10.54,1.65),(10.6,2.42),(10.69,2.29),(10.76,1.65),(10.88,1.15),(10.96,1.0),(11.04,0.95),(11.12,1.05),(11.21,1.15),(11.29,1.1),(11.38,1.02),(11.46,1.1),(11.54,1.15),(11.6,1.4),(11.66,1.59),(11.74,1.55),(11.82,1.53),(11.9,1.6),(11.96,1.65),(12.01,2.35),(12.07,4.13),(12.11,5.41),(12.16,4.52),(12.21,4.2),(12.25,2.8),(12.33,1.97),(12.38,1.65),(12.47,1.15),(12.55,3.12),(12.6,2.8),(12.72,2.54),(12.81,1.53),(12.88,0.83),(12.99,0.51),(13.08,0.5),(13.16,0.51),(13.25,0.5),(13.33,0.51),(13.44,0.76),(13.55,1.53),(13.61,1.84),(13.72,1.4),(13.8,1.1),(13.89,0.83),(13.98,0.6),(14.06,0.38),(14.17,0.25),(14.28,0.19),(14.39,0.15),(14.5,0.13),(14.61,0.1),(14.72,0.13),(14.83,0.1),(14.95,0.13),(15.06,0.15),(15.17,0.19),(15.26,0.4),(15.34,0.64),(15.45,1.15),(15.56,1.65),(15.67,2.16),(15.78,2.74),(15.86,3.18),(15.95,3.44),(16.06,3.56),(16.12,1.65),(16.17,2.48),(16.29,5.79),(16.34,6.68),(16.4,5.85),(16.45,5.41),(16.51,5.09),(16.56,4.58),(16.62,5.98),(16.73,6.68),(16.84,6.11),(16.9,5.92),(16.96,4.2),(17.01,3.44),(17.07,3.18),(17.12,3.69),(17.18,2.93),(17.29,3.05),(17.35,2.42),(17.42,2.67),(17.49,3.18),(17.57,3.37),(17.62,3.94),(17.68,4.71),(17.74,5.6),(17.83,4.2),(17.9,3.69),(17.98,3.31),(18.07,4.58),(18.18,4.96),(18.27,5.34),(18.35,4.96),(18.46,4.33),(18.52,4.2),(18.57,3.69),(18.69,5.41),(18.74,5.09),(18.8,4.71),(18.91,3.94),(18.96,3.31),(19.08,2.67),(19.19,2.29),(19.3,1.84),(19.35,1.59),(19.36,5.41),(19.41,8.65),(19.47,8.72),(19.5,6.93),(19.56,6.23),(19.61,5.79),(19.69,5.41),(19.75,6.93),(19.8,5.72),(19.88,7.57),(19.91,8.97),(19.97,8.78),(20.03,7.63),(20.06,6.87),(20.08,5.22),(20.14,4.58),(20.21,3.94),(20.3,3.69),(20.39,3.18),(20.47,3.56),(20.58,3.69),(20.69,3.37),(20.77,3.05),(20.86,2.16),(20.97,1.53),(21.08,0.95),(21.2,0.64),(21.36,1.91),(21.47,2.29),(21.59,2.67),(21.66,2.42),(21.75,1.91),(21.84,1.53),(21.92,1.15),(22.03,0.83),(22.12,0.65),(22.2,0.51),(22.31,0.4),(22.42,0.32),(22.53,0.35),(22.65,0.38),(22.76,0.35),(22.87,0.38),(22.96,0.5),(23.04,0.57),(23.12,0.6),(23.2,0.64),(23.28,0.75),(23.36,0.89),(23.48,1.53),(23.59,1.97),(23.71,2.42),(23.82,2.04),(23.93,1.65),(24.02,1.6),(24.1,1.53),(24.18,1.4),(24.26,1.27),(24.35,1.15),(24.43,1.02),(24.54,1.65),(24.63,2.04),(24.71,1.4),(24.82,1.15),(24.93,0.76)]

series = [(sado_obs, sado_27km, sado_81km), (happo_obs, happo_27km, happo_81km),
          (oki_obs, oki_27km, oki_81km), (banryu_obs, banryu_27km, banryu_81km),
          (yusuhara_obs, yusuhara_27km, yusuhara_81km)]

# ---------------- layout geometry ----------------
# Positions are target pixels of the photographed 1227x1440 page; fx/fy compensate
# the small offset and scale with which the page gets photographed.
W, H = 1227, 1440
SX, BX = 0.9942, 3.5
SY, BY = 0.9865, 8.3
PLOT_L, PLOT_R = 89, 1213
panel_px = [(-7, 245), (267, 521), (543, 797), (820, 1071), (1096, 1360)]

BLUE = "#1e90ff"
RED = "#d10f0f"
FONT = "Arial, Liberation Sans, Helvetica, sans-serif"


def fx(px):
    return ((px - BX) / SX) / W


def fy(py):
    return 1 - ((py - BY) / SY) / H


fig = go.Figure()
for i, (obs, m27, m81) in enumerate(series, start=1):
    xa = "x" if i == 1 else f"x{i}"
    ya = "y" if i == 1 else f"y{i}"
    fig.add_trace(go.Scatter(x=[p[0] for p in m81], y=[p[1] for p in m81], mode="lines",
                             line=dict(color=RED, width=2.2, shape="spline", smoothing=0.5),
                             xaxis=xa, yaxis=ya, name="81km"))
    fig.add_trace(go.Scatter(x=[p[0] for p in m27], y=[p[1] for p in m27], mode="lines",
                             line=dict(color=BLUE, width=2.2, shape="spline", smoothing=0.5),
                             xaxis=xa, yaxis=ya, name="27km"))
    fig.add_trace(go.Scatter(x=[p[0] for p in obs], y=[p[1] for p in obs], mode="markers",
                             marker=dict(symbol="circle-open", size=6.8, color="#262626",
                                         line=dict(width=1.3, color="#262626")),
                             xaxis=xa, yaxis=ya, name="Obs"))

layout = dict(width=W, height=H, margin=dict(l=0, r=0, t=0, b=0),
              paper_bgcolor="white", plot_bgcolor="white", showlegend=False,
              font=dict(family=FONT, color="black"))

shapes = []
annotations = []
for i in range(1, 6):
    top, bot = panel_px[i - 1]
    xk = "xaxis" if i == 1 else f"xaxis{i}"
    yk = "yaxis" if i == 1 else f"yaxis{i}"
    ya = "y" if i == 1 else f"y{i}"
    xa = "x" if i == 1 else f"x{i}"
    layout[xk] = dict(domain=[fx(PLOT_L), fx(PLOT_R)], range=[0, 25], anchor=ya,
                      tickmode="array", tickvals=tick_days, ticktext=tick_labels,
                      ticks="inside", ticklen=10, tickwidth=1.5, tickcolor="black",
                      minor=dict(tickmode="array", tickvals=minor_days, ticks="inside",
                                 ticklen=5, tickwidth=1.5, tickcolor="black"),
                      showline=True, linewidth=2, linecolor="black", mirror="ticks",
                      showgrid=False, zeroline=False, showticklabels=(i == 5),
                      ticklabelshift=18, ticklabelstandoff=5, ticklabeloverflow="allow",
                      tickfont=dict(size=23.5, family=FONT, color="#222"))
    layout[yk] = dict(domain=[max(fy(bot), 0), min(fy(top), 1)], range=[0, y_max[i - 1]], anchor=xa,
                      tickmode="array", tickvals=y_major[i - 1],
                      ticks="inside", ticklen=11, tickwidth=1.5, tickcolor="black",
                      minor=dict(tickmode="array", tickvals=y_minor[i - 1], ticks="inside",
                                 ticklen=6, tickwidth=1.5, tickcolor="black"),
                      showline=True, linewidth=2, linecolor="black", mirror="ticks",
                      showgrid=False, zeroline=False, ticklabelstandoff=4,
                      tickfont=dict(size=19.5, family=FONT, color="#222"))
    # y-axis title
    mid = (top + bot) / 2 if i > 1 else 118
    annotations.append(dict(text="SO<sub>2</sub> (ppb)", xref="paper", yref="paper",
                            x=fx(27), y=fy(mid), textangle=-90,
                            showarrow=False, xanchor="center", yanchor="middle",
                            font=dict(size=30, family=FONT, color="#222")))
    # panel number box
    if i == 1:
        b0, b1, dig = 0, 44, 22
    else:
        b0, b1, dig = top - 1, top + 47, top + 23
    shapes.append(dict(type="rect", xref="paper", yref="paper", x0=fx(84), x1=fx(112),
                       y0=fy(b1), y1=fy(b0), fillcolor="#2e3192",
                       line=dict(width=0), layer="above"))
    annotations.append(dict(text="<b>" + panel_numbers[i - 1] + "</b>", xref="paper", yref="paper",
                            x=fx(98), y=fy(dig), showarrow=False,
                            xanchor="center", yanchor="middle",
                            font=dict(size=33, family=FONT, color="white")))
    # site label
    label_y = [28, 306, 582, 858, 1134][i - 1]
    annotations.append(dict(text="<b>" + site_names[i - 1] + "</b>", xref="paper", yref="paper",
                            x=fx(123), y=fy(label_y), showarrow=False, xanchor="left",
                            yanchor="middle", font=dict(size=26.4, family=FONT, color="black")))

# green comments
annotations.append(dict(text="Mountain site!", xref="paper", yref="paper", x=fx(455), y=fy(314),
                        showarrow=False, xanchor="left", yanchor="middle",
                        font=dict(size=47.5, family=FONT, color="#008000")))
annotations.append(dict(text="Urban site!", xref="paper", yref="paper", x=fx(466), y=fy(858),
                        showarrow=False, xanchor="left", yanchor="middle",
                        font=dict(size=47.5, family=FONT, color="#008000")))

# legend box
shapes.append(dict(type="rect", xref="paper", yref="paper", x0=fx(448), x1=fx(1210),
                   y0=fy(60), y1=fy(-12), fillcolor="white", line=dict(color="black", width=3),
                   layer="above"))
shapes.append(dict(type="circle", xref="paper", yref="paper", x0=fx(464.5), x1=fx(471.5),
                   y0=fy(36), y1=fy(29), line=dict(color="#262626", width=1.3), layer="above"))
shapes.append(dict(type="line", xref="paper", yref="paper", x0=fx(625), x1=fx(679),
                   y0=fy(32), y1=fy(32), line=dict(color=BLUE, width=3), layer="above"))
shapes.append(dict(type="line", xref="paper", yref="paper", x0=fx(1027), x1=fx(1083),
                   y0=fy(32), y1=fy(32), line=dict(color=RED, width=3), layer="above"))
for txt, xpx in [("Obs", 490), ("27km", 680), ("81km", 1082)]:
    annotations.append(dict(text="<b>" + txt + "</b>", xref="paper", yref="paper", x=fx(xpx),
                            y=fy(38), showarrow=False, xanchor="left", yanchor="middle",
                            font=dict(size=38.5, family="DejaVu Sans, sans-serif", color="black")))

# x-axis title
annotations.append(dict(text="<b>Hourly time series in March (Local time, JST)</b>", xref="paper",
                        yref="paper", x=fx(696), y=fy(1419), showarrow=False, xanchor="center",
                        yanchor="middle", font=dict(size=37.2, family=FONT, color="black")))

layout["shapes"] = shapes
layout["annotations"] = annotations
fig.update_layout(**layout)
fig.write_html("out.html")
